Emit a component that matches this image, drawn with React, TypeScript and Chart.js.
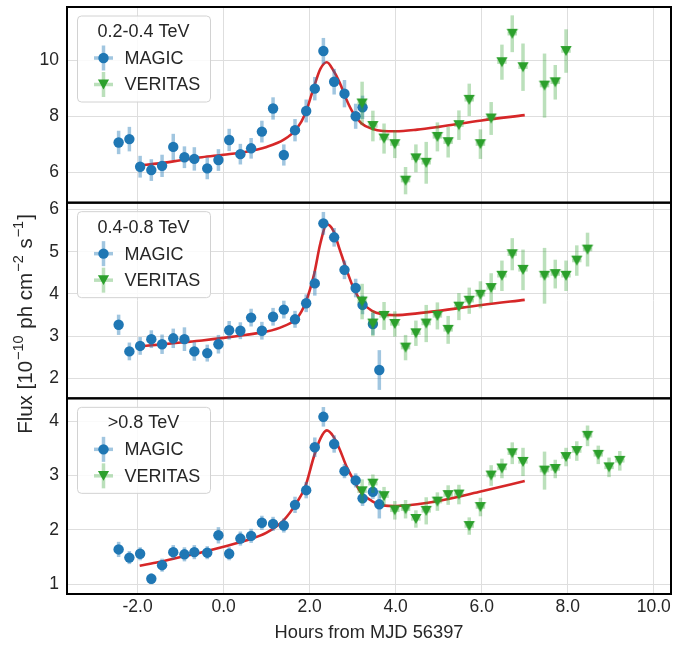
import React, { useEffect, useRef } from "react";
import { Chart, registerables } from "chart.js";

Chart.register(...registerables);

const FONT_FAMILY = "'Liberation Sans', Arial, Helvetica, sans-serif";
const TEXT_COLOR = "#262626";
const GRID_COLOR = "#dedede";
const MAGIC_COLOR = "#1f77b4";
const MAGIC_ERR = "rgba(31,119,180,0.42)";
const VERITAS_COLOR = "#2ca02c";
const VERITAS_ERR = "rgba(44,160,44,0.32)";
const FIT_COLOR = "#d62728";

// ---------------- data ----------------
const magicHours = [-2.44, -2.19, -1.94, -1.68, -1.43, -1.17, -0.91, -0.68, -0.38, -0.12, 0.13, 0.39, 0.64, 0.89, 1.15, 1.4, 1.66, 1.92, 2.12, 2.32, 2.57, 2.81, 3.07, 3.23, 3.47, 3.62];
const veritasHours = [3.22, 3.47, 3.73, 3.98, 4.23, 4.47, 4.71, 4.97, 5.22, 5.47, 5.71, 5.97, 6.22, 6.47, 6.71, 6.96, 7.46, 7.71, 7.96, 8.21, 8.46, 8.71, 8.96, 9.21];
const fitHours = [-1.95, -1.5, -1.0, -0.5, 0.0, 0.5, 1.0, 1.4, 1.7, 1.9, 2.1, 2.25, 2.4, 2.55, 2.7, 2.85, 3.0, 3.2, 3.45, 3.7, 4.0, 4.5, 5.0, 6.0, 7.0];

// 0.2-0.4 TeV
const magicLow = [7.06, 7.18, 6.19, 6.07, 6.22, 6.9, 6.53, 6.47, 6.13, 6.43, 7.15, 6.64, 6.85, 7.45, 8.28, 6.61, 7.5, 8.19, 8.99, 10.34, 9.24, 8.81, 8.0, 8.32];
const magicLowErr = [0.42, 0.44, 0.39, 0.39, 0.4, 0.47, 0.39, 0.42, 0.39, 0.39, 0.4, 0.37, 0.37, 0.39, 0.4, 0.38, 0.4, 0.41, 0.42, 0.47, 0.46, 0.49, 0.45, 0.42];
const veritasLow = [8.46, 7.65, 7.2, 7.0, 5.69, 6.49, 6.33, 7.26, 7.07, 7.68, 8.59, 7.0, 7.92, 9.94, 10.96, 9.76, 9.1, 9.22, 10.34];
const veritasLowErr = [0.78, 0.55, 0.54, 0.5, 0.49, 0.5, 0.75, 0.52, 0.55, 0.53, 0.58, 0.53, 0.59, 0.63, 0.66, 0.85, 1.15, 0.62, 0.78];
const fitLow = [6.24, 6.31, 6.42, 6.53, 6.62, 6.72, 6.9, 7.16, 7.55, 8.1, 9.05, 9.7, 9.94, 9.65, 9.2, 8.62, 8.15, 7.75, 7.55, 7.47, 7.46, 7.52, 7.62, 7.85, 8.04];

// 0.4-0.8 TeV
const magicMid = [3.27, 2.64, 2.77, 2.93, 2.81, 2.95, 2.93, 2.64, 2.6, 2.81, 3.14, 3.13, 3.44, 3.13, 3.46, 3.63, 3.4, 3.78, 4.25, 5.67, 5.34, 4.57, 4.14, 3.74, 3.29, 2.2];
const magicMidErr = [0.24, 0.21, 0.21, 0.21, 0.23, 0.23, 0.28, 0.22, 0.2, 0.22, 0.22, 0.2, 0.21, 0.21, 0.21, 0.21, 0.2, 0.21, 0.29, 0.27, 0.22, 0.22, 0.22, 0.22, 0.26, 0.47];
const veritasMid = [3.82, 3.3, 3.48, 3.29, 2.73, 3.07, 3.3, 3.48, 3.15, 3.7, 3.84, 3.98, 4.14, 4.43, 4.94, 4.57, 4.43, 4.47, 4.43, 4.79, 5.05];
const veritasMidErr = [0.42, 0.3, 0.33, 0.3, 0.3, 0.3, 0.44, 0.32, 0.33, 0.32, 0.31, 0.32, 0.35, 0.36, 0.38, 0.48, 0.66, 0.34, 0.36, 0.36, 0.4];
const fitMid = [2.76, 2.8, 2.85, 2.9, 2.96, 3.03, 3.11, 3.24, 3.42, 3.78, 4.45, 5.2, 5.65, 5.5, 5.05, 4.6, 4.19, 3.82, 3.6, 3.52, 3.5, 3.54, 3.6, 3.74, 3.86];

// >0.8 TeV
const magicHigh = [1.64, 1.49, 1.56, 1.1, 1.35, 1.59, 1.55, 1.59, 1.58, 1.9, 1.56, 1.84, 1.89, 2.13, 2.11, 2.08, 2.46, 2.73, 3.52, 4.08, 3.58, 3.08, 2.91, 2.58, 2.7, 2.47];
const magicHighErr = [0.14, 0.12, 0.12, 0.1, 0.12, 0.13, 0.13, 0.13, 0.12, 0.15, 0.12, 0.13, 0.13, 0.13, 0.13, 0.13, 0.15, 0.15, 0.18, 0.18, 0.16, 0.13, 0.13, 0.14, 0.13, 0.26];
const veritasHigh = [2.71, 2.85, 2.62, 2.36, 2.38, 2.2, 2.35, 2.52, 2.64, 2.65, 2.07, 2.42, 3.0, 3.13, 3.41, 3.25, 3.09, 3.12, 3.34, 3.45, 3.73, 3.38, 3.15, 3.27];
const veritasHighErr = [0.22, 0.17, 0.17, 0.17, 0.17, 0.16, 0.25, 0.17, 0.18, 0.18, 0.16, 0.17, 0.19, 0.18, 0.2, 0.26, 0.35, 0.17, 0.17, 0.18, 0.19, 0.17, 0.18, 0.18];
const fitHigh = [1.34, 1.41, 1.5, 1.59, 1.69, 1.8, 1.95, 2.18, 2.5, 2.8, 3.35, 3.68, 3.83, 3.72, 3.48, 3.18, 2.95, 2.68, 2.53, 2.45, 2.44, 2.47, 2.53, 2.71, 2.9];

const panelTitles = ["0.2-0.4 TeV", "0.4-0.8 TeV", ">0.8 TeV"];
const seriesNames = ["MAGIC", "VERITAS"];
const xTickValues = [-2, 0, 2, 4, 6, 8, 10];
const xTickLabels = ["-2.0", "0.0", "2.0", "4.0", "6.0", "8.0", "10.0"];
const yTickValuesLow = [6, 8, 10];
const yTickValuesMid = [2, 3, 4, 5, 6];
const yTickValuesHigh = [1, 2, 3, 4];
const xRange = [-3.64, 10.4];
const yRangeLow = [4.9, 11.92];
const yRangeMid = [1.53, 6.16];
const yRangeHigh = [0.82, 4.42];
const magicHalfBin = 0.1;
const veritasHalfBin = 0.11;
const xTitle = "Hours from MJD 56397";

// ---------------- helpers ----------------
function makeTriangle(color: string): HTMLCanvasElement {
  const c = document.createElement("canvas");
  c.width = 14;
  c.height = 14;
  const g = c.getContext("2d")!;
  g.fillStyle = color;
  g.beginPath();
  g.moveTo(7 - 5.6, 7 - 4.9);
  g.lineTo(7 + 5.6, 7 - 4.9);
  g.lineTo(7, 7 + 4.9);
  g.closePath();
  g.fill();
  return c;
}

function drawTri(ctx: CanvasRenderingContext2D, x: number, y: number, color: string) {
  ctx.fillStyle = color;
  ctx.beginPath();
  ctx.moveTo(x - 5.6, y - 4.9);
  ctx.lineTo(x + 5.6, y - 4.9);
  ctx.lineTo(x, y + 4.9);
  ctx.closePath();
  ctx.fill();
}

const errorBarPlugin = {
  id: "errorBars",
  beforeDatasetDraw(chart: any, args: any) {
    const ds = chart.data.datasets[args.index];
    if (!ds.errY) return;
    const meta = args.meta;
    const xs = meta.xScale;
    const ys = meta.yScale;
    const ctx = chart.ctx;
    ctx.save();
    ctx.strokeStyle = ds.errColor;
    ctx.lineWidth = 3.5;
    ctx.lineCap = "butt";
    ds.data.forEach((pt: any, i: number) => {
      const px = xs.getPixelForValue(pt.x);
      const py = ys.getPixelForValue(pt.y);
      ctx.beginPath();
      ctx.moveTo(px, ys.getPixelForValue(pt.y - ds.errY[i]));
      ctx.lineTo(px, ys.getPixelForValue(pt.y + ds.errY[i]));
      ctx.stroke();
      ctx.beginPath();
      ctx.moveTo(xs.getPixelForValue(pt.x - ds.errX), py);
      ctx.lineTo(xs.getPixelForValue(pt.x + ds.errX), py);
      ctx.stroke();
    });
    ctx.restore();
  },
};

const decorPlugin = {
  id: "decor",
  afterDraw(chart: any) {
    const ctx: CanvasRenderingContext2D = chart.ctx;
    const area = chart.chartArea;
    const ids = ["yLow", "yMid", "yHigh"];
    ctx.save();
    // legends
    ids.forEach((id, p) => {
      const ys = chart.scales[id];
      const T = ys.top;
      const bx = 77, by = T + 8.5, bw = 133, bh = 86;
      ctx.beginPath();
      ctx.roundRect(bx + 0.5, by + 0.5, bw, bh, 4);
      ctx.fillStyle = "rgba(255,255,255,0.85)";
      ctx.fill();
      ctx.strokeStyle = "#d2d2d2";
      ctx.lineWidth = 1;
      ctx.stroke();
      ctx.fillStyle = TEXT_COLOR;
      ctx.font = `18px ${FONT_FAMILY}`;
      ctx.textAlign = "center";
      ctx.textBaseline = "middle";
      ctx.fillText(panelTitles[p], bx + bw / 2, T + 25);
      const mx = 103.5;
      const y1 = T + 51;
      const y2 = T + 77.5;
      ctx.lineWidth = 3.5;
      ctx.strokeStyle = MAGIC_ERR;
      ctx.beginPath(); ctx.moveTo(mx - 9.5, y1); ctx.lineTo(mx + 9.5, y1); ctx.stroke();
      ctx.beginPath(); ctx.moveTo(mx, y1 - 12.5); ctx.lineTo(mx, y1 + 12.5); ctx.stroke();
      ctx.fillStyle = MAGIC_COLOR;
      ctx.beginPath(); ctx.arc(mx, y1, 5.2, 0, Math.PI * 2); ctx.fill();
      ctx.strokeStyle = VERITAS_ERR;
      ctx.beginPath(); ctx.moveTo(mx - 9.5, y2); ctx.lineTo(mx + 9.5, y2); ctx.stroke();
      ctx.beginPath(); ctx.moveTo(mx, y2 - 12.5); ctx.lineTo(mx, y2 + 12.5); ctx.stroke();
      drawTri(ctx, mx, y2, VERITAS_COLOR);
      ctx.fillStyle = TEXT_COLOR;
      ctx.textAlign = "left";
      ctx.fillText(seriesNames[0], 124.5, y1 + 1);
      ctx.fillText(seriesNames[1], 124.5, y2 + 1);
    });
    // frames
    ctx.strokeStyle = "#000";
    ctx.lineWidth = 2;
    ids.forEach((id) => {
      const ys = chart.scales[id];
      ctx.strokeRect(area.left, ys.top, area.right - area.left, ys.bottom - ys.top);
    });
    // x title
    ctx.fillStyle = TEXT_COLOR;
    ctx.font = `18.3px ${FONT_FAMILY}`;
    ctx.textAlign = "center";
    ctx.textBaseline = "middle";
    ctx.fillText(xTitle, (area.left + area.right) / 2, 633);
    // y title with superscripts
    const parts: [string, boolean][] = [
      ["Flux [10", false],
      ["\u221210", true],
      [" ph cm", false],
      ["\u22122", true],
      [" s", false],
      ["\u22121", true],
      ["]", false],
    ];
    const normal = `20.5px ${FONT_FAMILY}`;
    const sup = `14.5px ${FONT_FAMILY}`;
    let total = 0;
    parts.forEach(([t, s]) => {
      ctx.font = s ? sup : normal;
      total += ctx.measureText(t).width + (s ? 2 : 0);
    });
    ctx.translate(31.5, 324);
    ctx.rotate(-Math.PI / 2);
    ctx.textAlign = "left";
    ctx.textBaseline = "alphabetic";
    let xx = -total / 2;
    parts.forEach(([t, s]) => {
      ctx.font = s ? sup : normal;
      if (s) xx += 1;
      ctx.fillText(t, xx, s ? -8.5 : 0);
      xx += ctx.measureText(t).width + (s ? 1 : 0);
    });
    ctx.restore();
  },
};

function yScale(range: number[], tickVals: number[], weight: number) {
  return {
    type: "linear",
    position: "left",
    stack: "flux",
    stackWeight: 1,
    weight,
    min: range[0],
    max: range[1],
    afterBuildTicks: (s: any) => {
      s.ticks = tickVals.map((v) => ({ value: v }));
    },
    afterFit: (s: any) => {
      s.width = 67;
      s.paddingTop = 0;
      s.paddingBottom = 0;
    },
    grid: { color: GRID_COLOR, lineWidth: 1, drawTicks: false },
    border: { display: false },
    ticks: {
      font: { family: FONT_FAMILY, size: 17.5 },
      color: TEXT_COLOR,
      padding: 8,
      callback: (v: any) => String(v),
    },
  };
}

export default function App() {
  const ref = useRef<HTMLCanvasElement | null>(null);
  useEffect(() => {
    if (!ref.current) return;
    const tri = makeTriangle(VERITAS_COLOR);
    const panels = [
      { id: "yLow", magic: magicLow, magicErr: magicLowErr, ver: veritasLow, verErr: veritasLowErr, fit: fitLow },
      { id: "yMid", magic: magicMid, magicErr: magicMidErr, ver: veritasMid, verErr: veritasMidErr, fit: fitMid },
      { id: "yHigh", magic: magicHigh, magicErr: magicHighErr, ver: veritasHigh, verErr: veritasHighErr, fit: fitHigh },
    ];
    const datasets: any[] = [];
    panels.forEach((p) => {
      datasets.push({
        type: "line",
        label: "fit",
        yAxisID: p.id,
        data: fitHours.map((x, i) => ({ x, y: p.fit[i] })),
        borderColor: FIT_COLOR,
        borderWidth: 2.6,
        pointRadius: 0,
        showLine: true,
        fill: false,
        cubicInterpolationMode: "monotone",
        order: 3,
        clip: false,
      });
      datasets.push({
        type: "scatter",
        label: seriesNames[0],
        yAxisID: p.id,
        data: p.magic.map((y, i) => ({ x: magicHours[i], y })),
        pointStyle: "circle",
        pointRadius: 5.2,
        backgroundColor: MAGIC_COLOR,
        borderColor: MAGIC_COLOR,
        pointBorderWidth: 0,
        order: 2,
        clip: false,
        errY: p.magicErr,
        errX: magicHalfBin,
        errColor: MAGIC_ERR,
      });
      datasets.push({
        type: "scatter",
        label: seriesNames[1],
        yAxisID: p.id,
        data: p.ver.map((y, i) => ({ x: veritasHours[i], y })),
        pointStyle: tri,
        pointRadius: 6,
        backgroundColor: VERITAS_COLOR,
        borderColor: VERITAS_COLOR,
        pointBorderWidth: 0,
        order: 1,
        clip: false,
        errY: p.verErr,
        errX: veritasHalfBin,
        errColor: VERITAS_ERR,
      });
    });

    const chart = new Chart(ref.current, {
      type: "scatter",
      data: { datasets },
      options: {
        animation: false,
        responsive: false,
        devicePixelRatio: 1,
        events: [],
        layout: { padding: { left: 0, right: 19, top: 7, bottom: 0 } },
        plugins: { legend: { display: false }, tooltip: { enabled: false } },
        scales: {
          x: {
            type: "linear",
            position: "bottom",
            min: xRange[0],
            max: xRange[1],
            afterBuildTicks: (s: any) => {
              s.ticks = xTickValues.map((v) => ({ value: v }));
            },
            afterFit: (s: any) => {
              s.height = 52;
              s.paddingLeft = 0;
              s.paddingRight = 0;
            },
            grid: { color: GRID_COLOR, lineWidth: 1, drawTicks: false },
            border: { display: false },
            ticks: {
              font: { family: FONT_FAMILY, size: 17.5 },
              color: TEXT_COLOR,
              padding: 3,
              maxRotation: 0,
              autoSkip: false,
              callback: (_v: any, i: number) => xTickLabels[i],
            },
          },
          yHigh: yScale(yRangeHigh, yTickValuesHigh, 1),
          yMid: yScale(yRangeMid, yTickValuesMid, 2),
          yLow: yScale(yRangeLow, yTickValuesLow, 3),
        } as any,
      },
      plugins: [errorBarPlugin, decorPlugin],
    } as any);
    return () => chart.destroy();
  }, []);

  return (
    <div style={{ position: "fixed", left: 0, top: 0, width: 690, height: 646, background: "#fff" }}>
      <canvas ref={ref} width={690} height={646} style={{ width: 690, height: 646, display: "block" }} />
    </div>
  );
}
